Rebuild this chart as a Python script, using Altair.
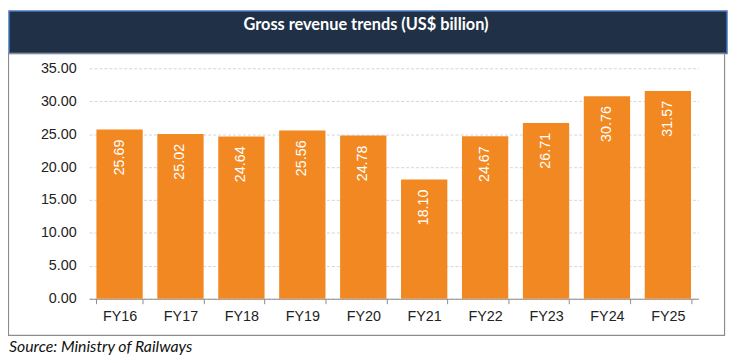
import altair as alt
import pandas as pd

years = ["FY16", "FY17", "FY18", "FY19", "FY20", "FY21", "FY22", "FY23", "FY24", "FY25"]
revenue = [25.69, 25.02, 24.64, 25.56, 24.78, 18.10, 24.67, 26.71, 30.76, 31.57]
y_ticks = [0, 5, 10, 15, 20, 25, 30, 35]
title_text = "Gross revenue trends (US$ billion)"
source_text = "Source: Ministry of Railways"

df = pd.DataFrame({"year": years, "rev": revenue})
df["label"] = [f"{v:.2f}" for v in revenue]

W, H = 616, 233
AXIS_FONT = "Liberation Sans"

xscale = alt.Scale(paddingInner=0.24, paddingOuter=0.12)
yscale = alt.Scale(domain=[0, 35], nice=False)
xaxis = alt.Axis(labelAngle=0, labelFont=AXIS_FONT, labelFontSize=14.5,
                 labelColor="#222222", labelPadding=6, domainColor="#8c8c8c",
                 tickColor="#8c8c8c", tickSize=5, tickBand="extent", grid=False,
                 labelOverlap=False)
yaxis = alt.Axis(values=y_ticks, format=".2f",
                 labelFont=AXIS_FONT, labelFontSize=14.5, labelColor="#222222",
                 labelPadding=13, domain=False, ticks=False, labelOverlap=False,
                 grid=True, gridColor="#d4d4d4", gridDash=[3, 2], gridWidth=1)

x = alt.X("year:N", sort=years, title=None, scale=xscale, axis=xaxis)
y = alt.Y("rev:Q", title=None, scale=yscale, axis=yaxis)

base = alt.Chart(df)

bars = base.mark_bar(color="#f28821").encode(x=x, y=y)
labels = base.mark_text(angle=270, align="right", baseline="middle", dx=-10,
                        font=AXIS_FONT, fontSize=14.5, color="white").encode(
    x=x, y=y, text="label:N")

deco = alt.Chart(pd.DataFrame({"k": [0]}))
header = deco.mark_rect(fill="#203147", stroke="#4a78c0", strokeWidth=1.5).encode(
    x=alt.value(-81), x2=alt.value(645), y=alt.value(-58), y2=alt.value(-15))
box = deco.mark_rect(fill=None, stroke="#8c8c8c", strokeWidth=1.2).encode(
    x=alt.value(-81.5), x2=alt.value(642.5), y=alt.value(-15), y2=alt.value(270))
title = deco.mark_text(font="Lato", fontWeight="bold", fontSize=16.5, color="white",
                       align="center", baseline="middle").encode(
    x=alt.value(280), y=alt.value(-44), text=alt.value(title_text))
source = deco.mark_text(font="Lato", fontStyle="italic", fontSize=16, color="#111111",
                        align="left", baseline="middle").encode(
    x=alt.value(-81), y=alt.value(282), text=alt.value(source_text))

chart = alt.layer(bars, labels, header, box, title, source).properties(
    width=W, height=H,
    padding={"left": 82, "top": 59, "right": 31, "bottom": 63},
    autosize=alt.AutoSizeParams(type="none"),
    background="white",
).configure_view(stroke=None).configure_axis(labelFont=AXIS_FONT)

chart.save("out.html", embed_options={"renderer": "svg", "actions": False})
